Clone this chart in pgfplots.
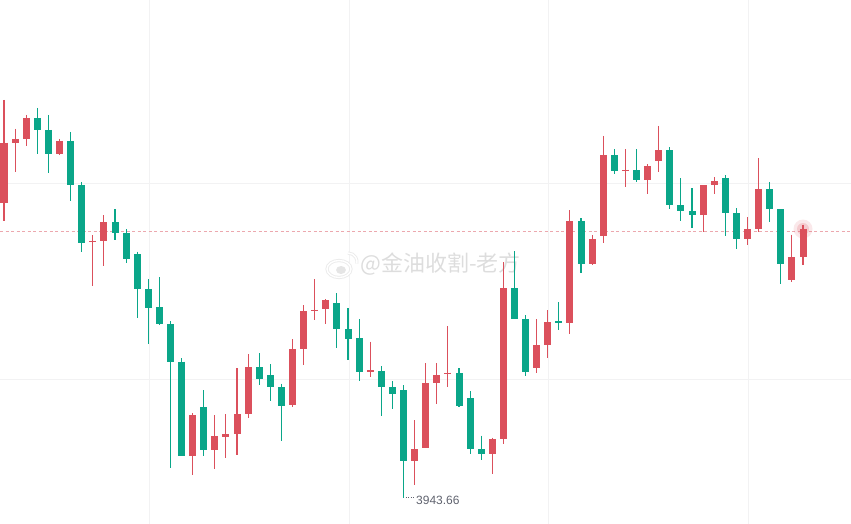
\documentclass[border=0pt]{standalone}
\usepackage{pgfplots}
\pgfplotsset{compat=1.18}
\usepackage{pgfplotstable}
\usepackage{fontspec}
\setmainfont{Liberation Sans}
\newfontfamily\cjk{Noto Sans CJK SC}
\definecolor{cRed}{RGB}{219,80,92}
\definecolor{cGreen}{RGB}{10,166,137}
\definecolor{cGrid}{RGB}{242,242,243}
\definecolor{cDash}{RGB}{236,168,174}
\definecolor{cLbl}{RGB}{95,98,110}
% columns: x position, high (wick top), low (wick bottom), body top, body bottom  (screen units, y grows downward)
\pgfplotstableread{
x hi lo top bot
4.0 100 220.7 142.7 202.7
15.1 129 171.7 139 142.7
26.2 115 145.7 118 138.7
59.5 139 154.7 141 153.7
92.8 235 285.7 240.8 242
103.9 215 265.7 222 240.7
192.6 413 474.7 415 455.7
214.8 415 468.7 436 449.7
225.9 414 457.7 434 436.7
237.0 368 454.7 414 433.7
248.1 354 417.7 367 413.7
292.5 339 406.7 349 404.7
303.6 305 364.7 311 348.7
314.7 279 319.7 309.8 311
325.8 299 323.7 300 308.7
370.2 341.7 376.7 370.4 371.6
414.6 420 484.7 449 460.7
425.7 363 447.7 383 447.7
436.8 363 403.7 375 382.7
447.9 326 386.7 372.7 373.9
492.3 437.7 473.7 439 453.7
503.4 262 443.7 288 438.7
536.7 319 372.7 345 367.7
547.8 310 357.7 322 344.7
569.9 210 333.7 221 322.7
592.1 235 264.7 239 263.7
603.2 136 242.7 155 235.7
625.4 149 186.7 169.7 170.9
647.6 164 193.7 166 179.7
658.7 126 171.7 150 160.7
703.1 185 231.7 185 214.7
714.2 177 193.7 181 184.7
747.5 217 244.7 229 238.7
758.6 158 231.7 189 228.7
791.9 234.7 281.7 257 279.7
803.0 224.7 264.7 228.7 256.7
}\redtab
\pgfplotstableread{
x hi lo top bot
37.3 108 153.7 118 129.7
48.4 115 172.7 130 153.7
70.6 132 200.7 141 184.7
81.7 182 251.7 185 242.7
115.0 209 239.7 222 232.7
126.1 229 262.7 233 258.7
137.2 251.7 317.7 254 288.7
148.3 279 343.7 289 307.7
159.4 277 324.7 307 323.7
170.5 321 467.7 324 361.7
181.6 358 455.7 361.7 455.7
203.7 390 455.7 407 449.7
259.2 353 384.7 367 378.7
270.3 364 400.7 375 386.7
281.4 383.7 440.7 387 405.7
336.9 293 347.7 303 328.7
348.0 308 359.7 329 338.7
359.1 319 380.7 338 371.7
381.3 366 415.7 371 386.7
392.4 381 408.7 387 393.7
403.5 385 497.7 390 460.7
459.0 368 406.7 373 405.7
470.1 391 453.7 398 448.7
481.2 435.7 459.7 449 453.7
514.5 251 319.3 288 318.7
525.6 315 375.7 319 371.7
558.9 302 329.7 321.4 322.6
581.0 218 272.7 221 263.7
614.3 149 173.7 155 170.7
636.5 149 181.7 170 179.7
669.8 147 208.7 150 204.7
680.9 178 220.7 205 210.7
692.0 188 227.7 211 214.7
725.3 175 235.7 178 212.7
736.4 208 248.7 213 238.7
769.7 182 221.7 189 208.7
780.8 209 283.7 209 263.7
}\greentab
\pgfplotsset{candle/.style={draw=none, no markers, forget plot,
  error bars/.cd, y dir=plus, y explicit, error mark=none}}
\begin{document}
\begin{tikzpicture}
\begin{axis}[
  scale only axis, width=851pt, height=524pt,
  xmin=0, xmax=851, ymin=0, ymax=524, y dir=reverse,
  axis line style={draw=none},
  xtick=\empty, ytick=\empty,
  clip=true,
]
% grid
\foreach \gx in {149,349,548,748}{
  \edef\tmp{\noexpand\draw[cGrid, line width=1pt] (axis cs:\gx,0) -- (axis cs:\gx,524);}\tmp}
\foreach \gy in {183,379}{
  \edef\tmp{\noexpand\draw[cGrid, line width=1pt] (axis cs:0,\gy) -- (axis cs:851,\gy);}\tmp}
\draw[cDash, line width=0.8pt, dash pattern=on 3pt off 2.5pt] (axis cs:0,231) -- (axis cs:851,231);
% watermark
\begin{scope}[line width=3.2pt, gray!16]
\draw (axis cs:339,269) ellipse [x radius=12pt, y radius=8.5pt];
\draw (axis cs:348,253) arc[start angle=90, end angle=-10, radius=9pt];
\end{scope}
\begin{scope}[line width=1.4pt, white]
\draw (axis cs:339,269) ellipse [x radius=12pt, y radius=8.5pt];
\draw (axis cs:348,253) arc[start angle=90, end angle=-10, radius=9pt];
\end{scope}
\fill[gray!20] (axis cs:341,270) ellipse [x radius=5pt, y radius=4pt];
\node[font=\cjk\fontsize{22}{22}\selectfont, text=gray!27, anchor=west, inner sep=0pt] at (axis cs:360,264) {@金油收割-老方};
% wicks and bodies
\addplot[candle, error bar style={draw=cRed, line width=1.1pt}]
  table[x=x, y=hi, y error plus expr=\thisrow{lo}-\thisrow{hi}] {\redtab};
\addplot[candle, error bar style={draw=cRed, line width=7pt}]
  table[x=x, y=top, y error plus expr=\thisrow{bot}-\thisrow{top}] {\redtab};
\addplot[candle, error bar style={draw=cGreen, line width=1.1pt}]
  table[x=x, y=hi, y error plus expr=\thisrow{lo}-\thisrow{hi}] {\greentab};
\addplot[candle, error bar style={draw=cGreen, line width=7pt}]
  table[x=x, y=top, y error plus expr=\thisrow{bot}-\thisrow{top}] {\greentab};
% glow on last candle
\fill[cRed, opacity=0.13] (axis cs:803,229) circle (9.5pt);
\fill[cRed, opacity=0.2] (axis cs:803,229) circle (6pt);
% low label
\draw[cLbl, line width=0.8pt, dash pattern=on 1pt off 1.5pt] (axis cs:405.5,497.5) -- (axis cs:415,497.5);
\node[anchor=west, font=\fontsize{12}{12}\selectfont, text=cLbl, inner sep=0pt] at (axis cs:416,500.5) {3943.66};
\end{axis}
\end{tikzpicture}
\end{document}
